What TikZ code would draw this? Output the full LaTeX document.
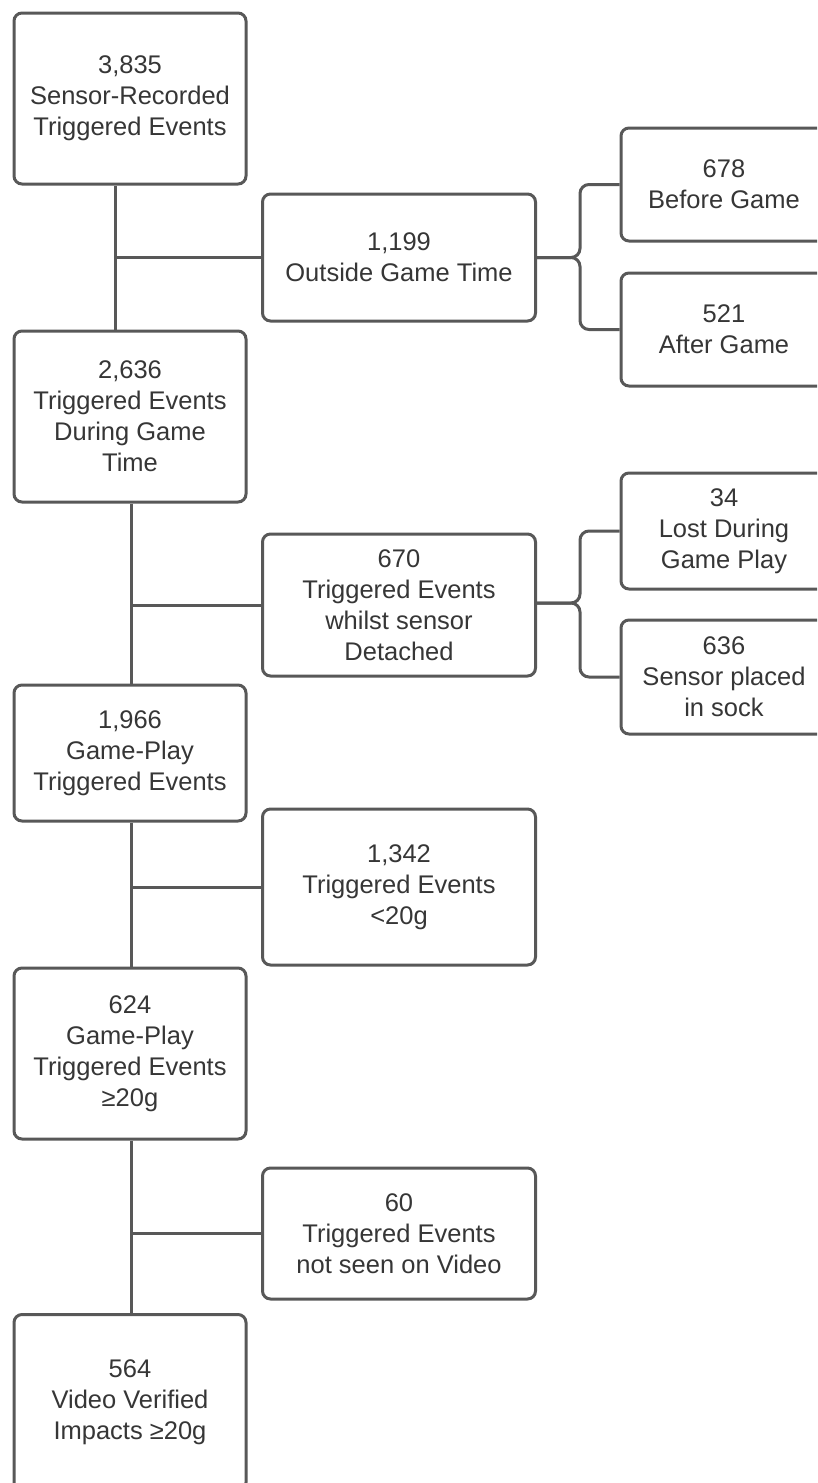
\documentclass[tikz,border=0pt]{standalone}
\usepackage{fontspec}
\setmainfont{Liberation Sans}
\definecolor{lineg}{HTML}{585858}
\definecolor{textg}{HTML}{363636}
\begin{document}
\begin{tikzpicture}[x=1pt,y=-1pt,
  box/.style={draw=lineg, line width=3pt, rounded corners=8pt, fill=white,
    align=center, inner sep=0pt, text=textg,
    font=\fontsize{25.5}{31}\selectfont},
  conn/.style={draw=lineg, line width=3pt},
  brace/.style={draw=lineg, line width=3pt, rounded corners=9pt}]
\useasboundingbox (0,0) rectangle (817,1483);
\clip (0,0) rectangle (817,1483);
\fill[white] (0,0) rectangle (817,1483);
% left column
\node[box, minimum width=232, minimum height=171] (b1) at (130,98.5) {3,835\\Sensor-Recorded\\Triggered Events};
\node[box, minimum width=232, minimum height=171] (b2) at (130,416.5) {2,636\\Triggered Events\\During Game\\Time};
\node[box, minimum width=232, minimum height=136] (b3) at (130,753) {1,966\\Game-Play\\Triggered Events};
\node[box, minimum width=232, minimum height=171] (b4) at (130,1053.5) {624\\Game-Play\\Triggered Events\\≥20g};
\node[box, minimum width=232, minimum height=176] (b5) at (130,1402.5) {564\\Video Verified\\Impacts ≥20g};
% middle column
\node[box, minimum width=273, minimum height=127] (m1) at (399,257.5) {1,199\\Outside Game Time};
\node[box, minimum width=273, minimum height=142] (m2) at (399,605) {670\\Triggered Events\\whilst sensor\\Detached};
\node[box, minimum width=273, minimum height=156] (m3) at (399,887) {1,342\\Triggered Events\\<20g};
\node[box, minimum width=273, minimum height=131] (m4) at (399,1233.5) {60\\Triggered Events\\not seen on Video};
% right column
\node[box, minimum width=206, minimum height=113] (r1) at (724,184.5) {678\\Before Game};
\node[box, minimum width=206, minimum height=113] (r2) at (724,329.5) {521\\After Game};
\node[box, minimum width=206, minimum height=116] (r3) at (724,531) {34\\Lost During\\Game Play};
\node[box, minimum width=206, minimum height=114] (r4) at (724,677) {636\\Sensor placed\\in sock};
% junctions
\coordinate (j1) at (115,257.5);
\coordinate (j2) at (131,605);
\coordinate (j3) at (131,887);
\coordinate (j4) at (131,1233.5);
\coordinate (k1) at (580,257.5);
\coordinate (k2) at (580,603);
% vertical trunks
\draw[conn] (b1.south -| j1) -- (b2.north -| j1);
\draw[conn] (b2.south -| j2) -- (b3.north -| j2);
\draw[conn] (b3.south -| j3) -- (b4.north -| j3);
\draw[conn] (b4.south -| j4) -- (b5.north -| j4);
% side branches
\draw[conn] (j1) -- (m1.west);
\draw[conn] (j2) -- (m2.west);
\draw[conn] (j3) -- (m3.west);
\draw[conn] (j4) -- (m4.west);
% braces
\draw[brace] (m1.east) -- (k1) |- (r1.west);
\draw[brace] (m1.east) -- (k1) |- (r2.west);
\draw[brace] (m2.east |- k2) -- (k2) |- (r3.west);
\draw[brace] (m2.east |- k2) -- (k2) |- (r4.west);
\end{tikzpicture}
\end{document}
